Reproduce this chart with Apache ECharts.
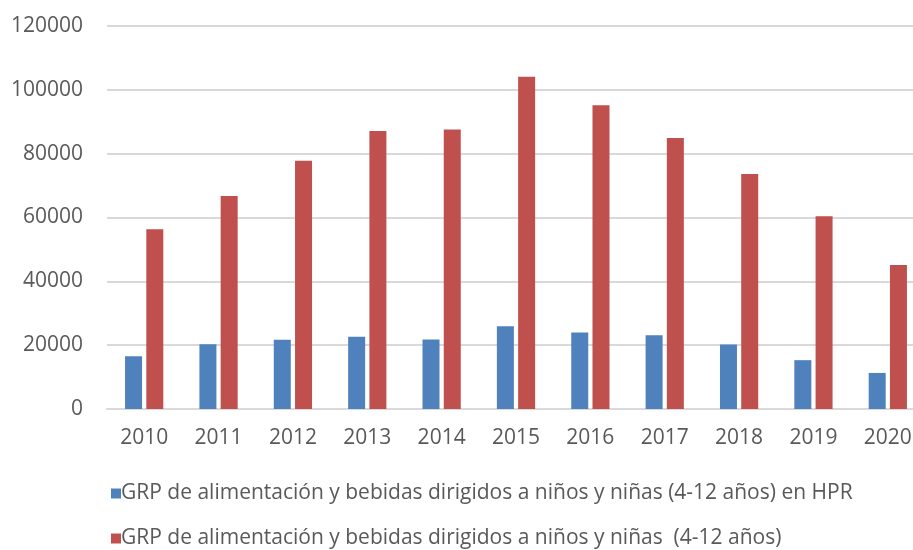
<!DOCTYPE html>
<html>
<head>
<meta charset="utf-8">
<script src="https://cdn.jsdelivr.net/npm/echarts@6/dist/echarts.min.js"></script>
<style>
  html, body { margin: 0; padding: 0; background: #fff; overflow: hidden; }
  #chart { width: 925px; height: 550px; }
</style>
</head>
<body>
<div id="chart"></div>
<script>
const years = ['2010', '2011', '2012', '2013', '2014', '2015', '2016', '2017', '2018', '2019', '2020']
const hprValues = [16500, 20300, 21700, 22600, 21800, 25900, 24000, 23100, 20200, 15300, 11300]
const totalValues = [56300, 66700, 77800, 87100, 87600, 104100, 95200, 84900, 73600, 60400, 45100]
const seriesNames = [
    'GRP de alimentación y bebidas dirigidos a niños y niñas (4-12 años) en HPR',
    'GRP de alimentación y bebidas dirigidos a niños y niñas  (4-12 años)'
]

// the plot runs a little past the right edge of the picture, so the div is wider than the window
var myChart = echarts.init(document.getElementById('chart'))
const font = 'Open Sans'
const legendBase = {
    left: 106,
    itemWidth: 10,
    itemHeight: 10,
    icon: 'rect',
    textStyle: { fontSize: 21, color: '#595959', fontFamily: font, padding: [0, 0, 0, -5] }
}
const option = {
    animation: false,
    textStyle: { fontFamily: font },
    legend: [
        Object.assign({}, legendBase, { data: [seriesNames[0]], top: 478 }),
        Object.assign({}, legendBase, { data: [seriesNames[1]], top: 523 })
    ],
    grid: {
        left: 107,
        right: 0,
        top: 26,
        height: 383
    },
    xAxis: {
        type: 'category',
        data: years,
        axisLine: { lineStyle: { color: '#d9d9d9', width: 2 } },
        axisTick: { show: false },
        axisLabel: { fontSize: 21, color: '#595959', margin: 19 }
    },
    yAxis: {
        type: 'value',
        min: 0,
        max: 120000,
        interval: 20000,
        axisLine: { show: false },
        axisTick: { show: false },
        splitLine: { lineStyle: { color: '#d9d9d9', width: 2 } },
        axisLabel: { fontSize: 21, color: '#595959', margin: 24, formatter: (v) => String(v) }
    },
    series: [
        {
            name: seriesNames[0],
            type: 'bar',
            data: hprValues,
            barWidth: 17,
            barGap: '25%',
            itemStyle: { color: '#4F81BD' }
        },
        {
            name: seriesNames[1],
            type: 'bar',
            data: totalValues,
            barWidth: 17,
            barGap: '25%',
            itemStyle: { color: '#C0504D' }
        }
    ]
}
myChart.setOption(option)
</script>
</body>
</html>
